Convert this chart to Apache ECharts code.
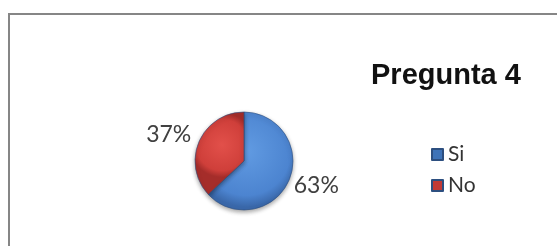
<!DOCTYPE html>
<html>
<head>
<meta charset="utf-8">
<script src="https://cdn.jsdelivr.net/npm/echarts@6/dist/echarts.min.js"></script>
<style>
html,body{margin:0;padding:0;background:#fff;}
#c{width:557px;height:246px;}
</style>
</head>
<body>
<div id="c"></div>
<script>
var categories = ['Si', 'No'];
var values = [63, 37];
var titleText = 'Pregunta 4';

var chart = echarts.init(document.getElementById('c'), null, {renderer: 'canvas'});

var colors = [
  {type: 'radial', x: 0.45, y: 0.4, r: 0.65, colorStops: [{offset: 0, color: '#619BE2'}, {offset: 0.8, color: '#4C84D0'}, {offset: 1, color: '#3A68AA'}]},
  {type: 'radial', x: 0.55, y: 0.4, r: 0.65, colorStops: [{offset: 0, color: '#E2504A'}, {offset: 0.8, color: '#CF3F3A'}, {offset: 1, color: '#A52D2A'}]}
];
var legendColors = ['#3E73B8', '#C23A36'];
var labelShift = [[-3, 4], [0, -6]];

var option = {
  animation: false,
  backgroundColor: '#ffffff',
  title: {
    text: titleText,
    left: 366,
    top: 56,
    textStyle: {fontFamily: 'Liberation Sans', fontWeight: 'bold', fontSize: 29, color: '#111'}
  },
  legend: {
    orient: 'vertical',
    left: 426,
    top: 139,
    itemWidth: 11,
    itemHeight: 11,
    itemGap: 10,
    icon: 'rect',
    textStyle: {fontFamily: 'Lato', fontSize: 21, color: '#333'},
    data: categories.map(function (c, i) { return {name: c, itemStyle: {color: legendColors[i]}}; })
  },
  graphic: [{
    type: 'rect',
    shape: {x: 9, y: 14, width: 600, height: 300},
    style: {fill: 'none', stroke: '#868686', lineWidth: 2},
    silent: true, z: -1
  }],
  series: [{
    type: 'pie',
    center: [244, 161],
    radius: [0, 49],
    startAngle: 90,
    clockwise: true,
    avoidLabelOverlap: false,
    itemStyle: {borderColor: '#2d4f80', borderWidth: 0.6, shadowBlur: 4, shadowColor: 'rgba(0,0,0,0.35)', shadowOffsetY: 2},
    label: {
      show: true,
      position: 'outside',
      formatter: '{d}%',
      fontFamily: 'Lato',
      fontSize: 23,
      color: '#404040'
    },
    labelLine: {show: false, length: 3, length2: 0},
    labelLayout: function (params) {
      var s = labelShift[params.dataIndex];
      return {dx: s[0], dy: s[1]};
    },
    data: categories.map(function (c, i) {
      return {name: c, value: values[i], itemStyle: {color: colors[i]}};
    })
  }]
};
chart.setOption(option);
</script>
</body>
</html>
